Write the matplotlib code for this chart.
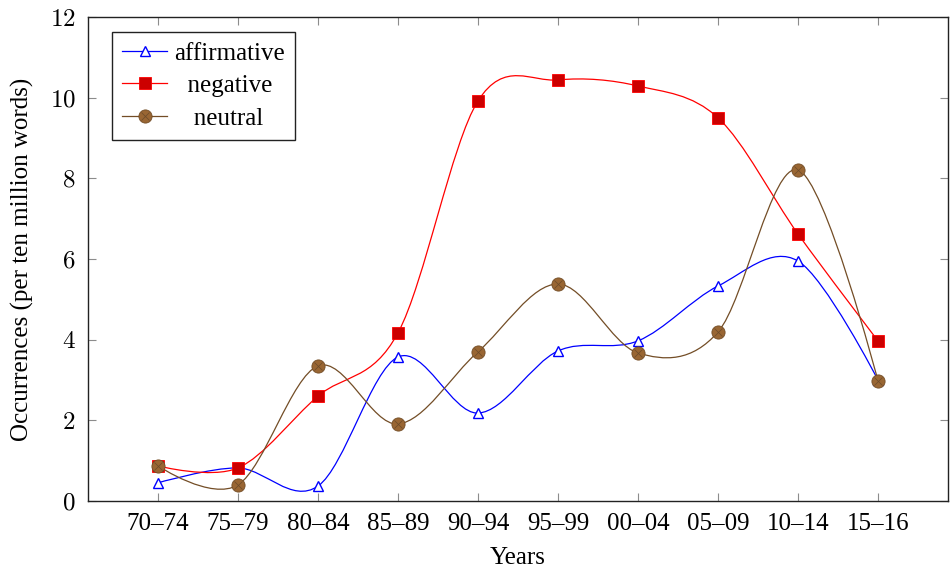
import matplotlib.pyplot as plt
import numpy as np
from matplotlib.path import Path
from matplotlib.patches import PathPatch
from matplotlib.lines import Line2D
from matplotlib.ticker import FuncFormatter

plt.rcParams['font.family'] = ['Liberation Serif', 'DejaVu Serif']
plt.rcParams['mathtext.fontset'] = 'cm'

periods = ['70–74', '75–79', '80–84', '85–89', '90–94',
           '95–99', '00–04', '05–09', '10–14', '15–16']
affirmative = [0.45, 0.82, 0.37, 3.57, 2.18, 3.72, 3.97, 5.33, 5.95, 3.0]
negative = [0.87, 0.82, 2.6, 4.17, 9.92, 10.44, 10.29, 9.5, 6.62, 3.97]
neutral = [0.87, 0.4, 3.35, 1.91, 3.7, 5.38, 3.67, 4.19, 8.21, 2.98]


def smooth_path(xs, ys, k=0.165):
    # bezier curve through the points, like pgfplots "smooth"
    pts = np.column_stack([xs, ys])
    n = len(pts)
    verts = [pts[0]]
    codes = [Path.MOVETO]
    for i in range(n - 1):
        p0, p1 = pts[i], pts[i + 1]
        c1 = p0 if i == 0 else p0 + k * (pts[i + 1] - pts[i - 1])
        c2 = p1 if i + 1 == n - 1 else p1 - k * (pts[i + 2] - pts[i])
        verts += [c1, c2, p1]
        codes += [Path.CURVE4] * 3
    return Path(verts, codes)


fig = plt.figure(figsize=(9.52, 5.70), dpi=100)
ax = fig.add_axes([88 / 952, 1 - 501 / 570, 860 / 952, 484 / 570])

x = np.arange(len(periods))

blue = '#0000ff'
red = '#ff0000'
red_fill = '#cc0000'
brown_line = '#734d26'
brown_fill = '#996633'

ax.add_patch(PathPatch(smooth_path(x, affirmative), facecolor='none',
                       edgecolor=blue, lw=0.9, zorder=3))
ax.plot(x, affirmative, linestyle='none', marker='^', ms=7.5,
        mfc='white', mec=blue, mew=1.0, zorder=4)

ax.add_patch(PathPatch(smooth_path(x, negative), facecolor='none',
                       edgecolor=red, lw=0.9, zorder=3))
ax.plot(x, negative, linestyle='none', marker='s', ms=8.5,
        mfc=red_fill, mec=red, mew=0.6, zorder=4)

ax.add_patch(PathPatch(smooth_path(x, neutral), facecolor='none',
                       edgecolor=brown_line, lw=0.9, zorder=3))
ax.plot(x, neutral, linestyle='none', marker='o', ms=9.5,
        mfc=brown_fill, mec=brown_line, mew=0.6, zorder=4)
ax.plot(x, neutral, linestyle='none', marker='x', ms=6,
        mec='#6b4a2a', mew=0.5, zorder=5)

ax.set_xlim(-0.875, len(periods) - 1 + 0.875)
ax.set_ylim(0, 12)
ax.set_xticks(x)
ax.set_xticklabels(periods)
ax.set_yticks(np.arange(0, 13, 2))
ax.yaxis.set_major_formatter(FuncFormatter(lambda v, p: f'${v:g}$'))

ax.tick_params(direction='in', length=6, width=0.8, color='#8c8c8c',
               labelsize=18, top=True, right=True)
ax.tick_params(axis='x', pad=9)
ax.tick_params(axis='y', pad=9)
for s in ax.spines.values():
    s.set_linewidth(1.0)
    s.set_color('#222222')

ax.set_xlabel('Years', fontsize=18, labelpad=8)
ax.set_ylabel('Occurrences (per ten million words)', fontsize=18, labelpad=11)

h_aff = Line2D([], [], color=blue, lw=0.9, marker='^', ms=7.5,
               mfc='white', mec=blue, mew=1.0)
h_neg = Line2D([], [], color=red, lw=0.9, marker='s', ms=8.5,
               mfc=red_fill, mec=red, mew=0.6)
h_neu_o = Line2D([], [], color=brown_line, lw=0.9, marker='o', ms=9.5,
                 mfc=brown_fill, mec=brown_line, mew=0.6)
h_neu_x = Line2D([], [], linestyle='none', marker='x', ms=6,
                 mec='#6b4a2a', mew=0.5)
leg = ax.legend([h_aff, h_neg, (h_neu_o, h_neu_x)],
                ['affirmative', '  negative', '   neutral'],
                loc='upper left', bbox_to_anchor=(0.028, 0.969),
                fontsize=18, frameon=True, fancybox=False,
                edgecolor='#222222', framealpha=1, handlelength=1.8,
                handletextpad=0.3, labelspacing=0.4, borderpad=0.4,
                borderaxespad=0)
leg.get_frame().set_linewidth(1.0)

fig.savefig('out.png', dpi=100)
